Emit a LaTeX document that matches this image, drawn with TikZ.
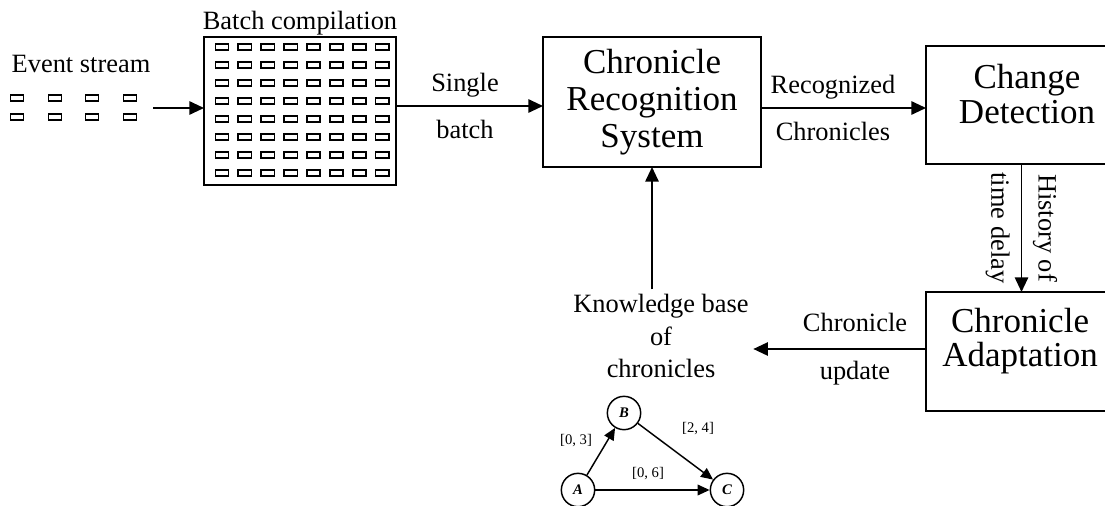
\documentclass[tikz,border=0pt]{standalone}
\usepackage{fontspec}
\setmainfont{Liberation Serif}
\usetikzlibrary{arrows.meta,positioning,calc}
\tikzset{
    flow/.style = {
        draw,
        line width=1.4pt,
        -{Triangle[length=11pt,width=10pt]},
        },
    small flow/.style = {
        draw,
        line width=1.1pt,
        -{Triangle[length=9pt,width=8pt]},
        },
    event/.style = {
        draw,
        line width=1.2pt,
        minimum width=10pt,
        minimum height=4.3pt,
        inner sep=0pt,
        },
}
\begin{document}
\begin{tikzpicture}[
            x=0.75pt, y=-0.75pt,
            MainBlock/.style={draw, line width=1.4pt, outer sep=0pt, align=center, font=\fontsize{26.25}{27.5}\selectfont},
            BlockText/.style={align=center, font=\fontsize{26.25}{26}\selectfont},
            Caption/.style={align=center, font=\fontsize{19.8}{24.4}\selectfont},
            SplitCaption/.style={align=center, font=\fontsize{19.8}{35.5}\selectfont},
            EventNode/.style={circle, draw, line width=1.1pt, minimum size=25pt, inner sep=0pt, font=\bfseries\itshape\fontsize{11}{13}\selectfont},
            Interval/.style={font=\fontsize{11}{12}\selectfont},
            label distance=1pt
            ]
            \useasboundingbox (0,0) rectangle (1105,506);

            \node [Caption] (es) at (81,64) {Event stream};
            \foreach \x in {17,55,92,130}
                \foreach \y in {98,117}
                    \node [event] (e-\x-\y) at (\x,\y) {};
            \coordinate (esout) at (153,108);

            \node [MainBlock, minimum width=144pt, minimum height=111pt,
                   label={[Caption, inner sep=0pt]above:Batch compilation}] (batch) at (300,111) {};
            \foreach \i in {0,...,7}
                \foreach \j in {0,...,7}
                    \node [event] (g-\i-\j) at ({222+22.9*\i},{47+18*\j}) {};

            \node [MainBlock, minimum width=163.5pt, minimum height=97.5pt] (crs) at (652,102) {Chronicle\\Recognition\\System};
            \node [MainBlock, minimum width=145.5pt, minimum height=88.5pt] (cd) at (1023,105) {};
            \node [BlockText] (cdtext) at (1027,94) {Change\\Detection};
            \node [MainBlock, minimum width=141pt, minimum height=89.25pt] (ca) at (1020,351.5) {};
            \node [BlockText] (catext) at (1020,341) {Chronicle\\Adaptation};

            \node [SplitCaption] (sb) at (465,106) {Single\\batch};
            \node [SplitCaption] (rc) at (833,108) {Recognized\\Chronicles};
            \node [SplitCaption] (cu) at (855,349) {Chronicle\\update};
            \node [SplitCaption, rotate=-90] (hist) at (1021.5,228) {History of\\time delay};
            \node [Caption] (kb) at (661,336) {Knowledge base\\of\\chronicles};

            \draw[flow] (esout) -- (esout -| batch.west);
            \draw[flow] (batch.east |- sb) -- (crs.west |- sb);
            \draw[flow] (crs.east |- rc) -- (cd.west |- rc);
            \draw[flow] (cd.south -| hist) -- (ca.north -| hist);
            \draw[flow] (ca.west |- cu) -- (kb.east |- cu);
            \draw[flow] (crs.south |- kb.north) -- (crs.south);

            % chronicle model
            \node [EventNode] (A) at (578,490) {A};
            \node [EventNode] (B) at (624,413) {B};
            \node [EventNode] (C) at (727,490) {C};
            \draw[small flow] (A) -- (B);
            \draw[small flow] (B) -- (C);
            \draw[small flow] (A) -- (C);
            \node [Interval] (ab) at (576,441) {[0, 3]};
            \node [Interval] (bc) at (698,429) {[2, 4]};
            \node [Interval] (ac) at (648,474) {[0, 6]};
\end{tikzpicture}
\end{document}
